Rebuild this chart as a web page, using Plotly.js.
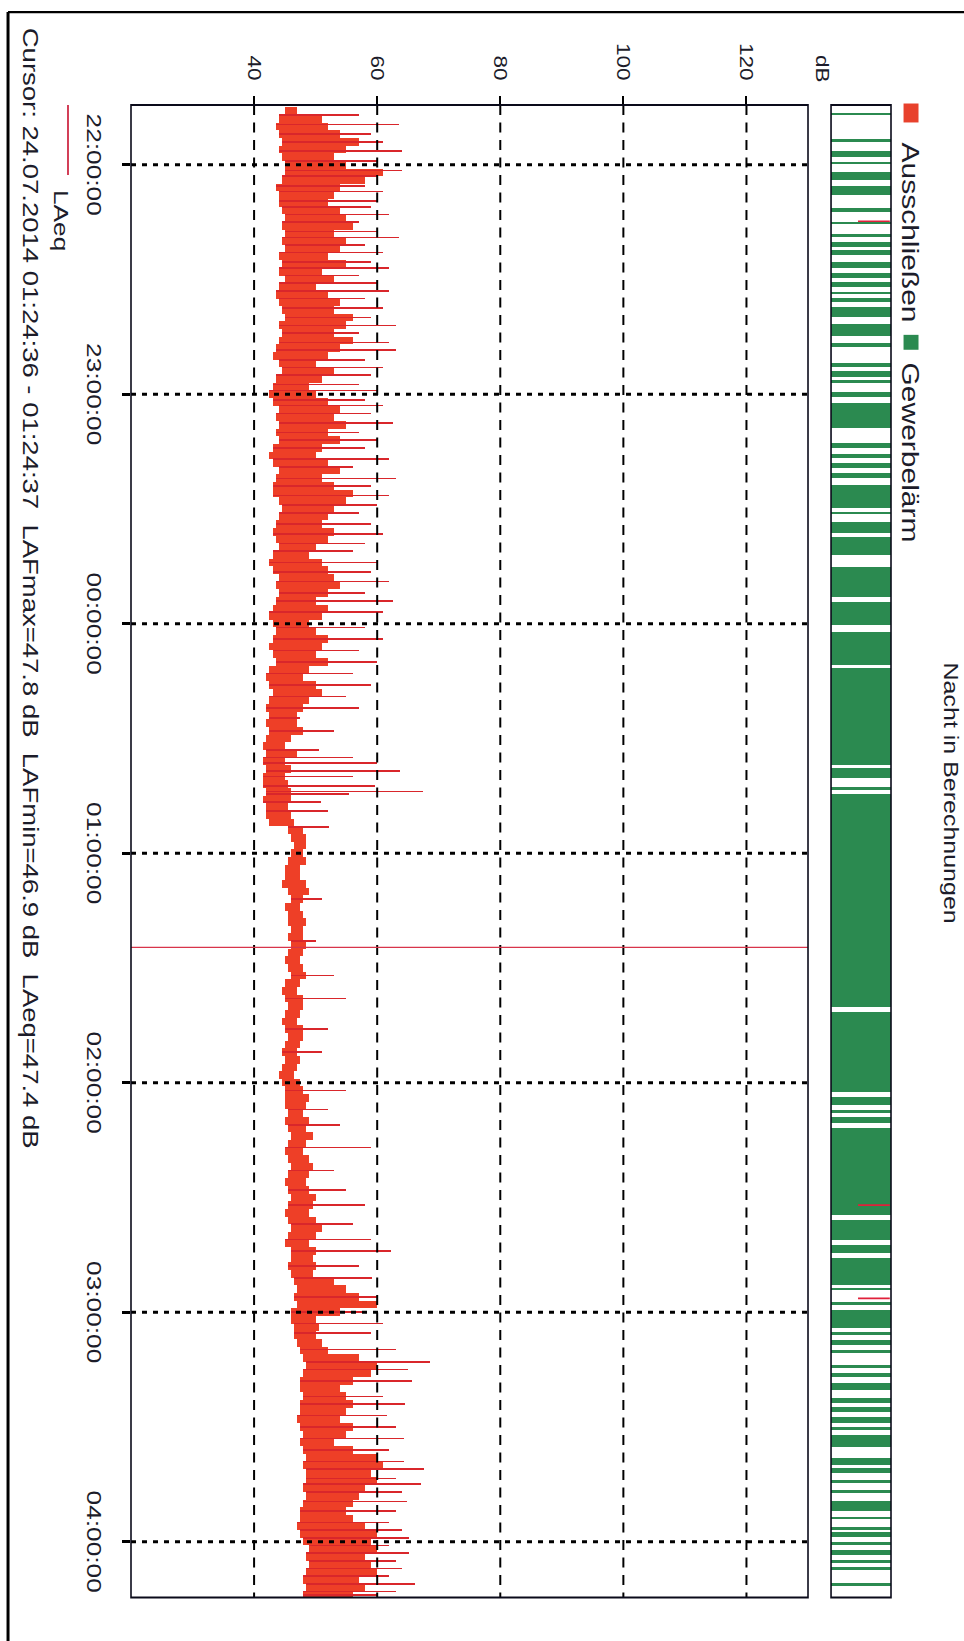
<!DOCTYPE html>
<html><head><meta charset="utf-8">
<script src="https://cdn.plot.ly/plotly-3.0.1.min.js"></script>
<style>
html,body{margin:0;padding:0;overflow:hidden;background:#fff;width:964px;height:1641px;}
#chart{position:absolute;left:0;top:0;width:1313px;height:964px;transform-origin:0 0;transform:translate(964px,0) rotate(90deg) scale(1.25,1);}
</style></head><body><div id="chart"></div>
<script>
// ---- data (times in minutes relative to 23.07.2014 22:00:00) ----
const dbTicks = [40, 60, 80, 100, 120];
const hourTicks = ['2014-07-23 22:00:00','2014-07-23 23:00:00','2014-07-24 00:00:00','2014-07-24 01:00:00','2014-07-24 02:00:00','2014-07-24 03:00:00','2014-07-24 04:00:00'];
const hourLabels = ['22:00:00','23:00:00','00:00:00','01:00:00','02:00:00','03:00:00','04:00:00'];

const binStart = -15;   // first 2-minute bin starts 21:45
const binStep = 2;
const laeqLow = [
 45,44,43.5,44,44.5,44,44.5,45,45,44.5,
 43.5,44,44,44.5,45,44.5,45,44.5,45,44,
 44.5,44,45,44,43.5,44,44.5,45,44,44.5,
 44,43.5,43,44,44.5,43.5,43,42.5,43,44,
 43.5,44,43.5,44,43,42.5,43,44,43.5,43,
 43,44,44.5,44,43.5,43,43.5,44,43,42.5,
 43,44,43.5,44,43.5,43,42.5,43,43.5,43,
 42.5,43,43.5,42.5,42,42.5,43,42.5,42,42.5,
 42,42.5,42,41.5,42,41.5,42,41.5,41.5,42,
 41.5,42,42,42.5,45.5,46,46.5,46,45.5,45,
 45,44.5,45.5,46,45,45.5,45.5,46,45.5,46,
 45.5,45,45.5,46,45,44.5,45,45.5,45,44.5,
 45,45.5,45,44.5,45,44.5,44,44.5,45,45,
 45,45.5,45,45.5,46,45.5,45,45.5,46,45.5,
 45,45.5,46,45.5,45,45.5,46,45.5,45,46,
 46,45.5,46,46.5,47,46.5,47,46,46,46.5,
 46.5,47,47.5,48,48.5,48,47.5,47.5,48,47.5,
 47.5,47,47.5,48,47.5,48,48.5,48,48.5,48.5,
 48,48.5,48,47.5,47.5,47,47.5,48,49,48.5,
 49,48.5,48,48.5,48
];
const laeqHigh = [
 47,51,52,54,57,55,53,55,61,58,
 54,53,52,54,55,56,53,55,54,52,
 55,51,53,50,52,54,53,56,55,53,
 56,54,52,50,53,51,49,50,52,54,
 53,55,52,54,51,50,52,54,51,53,
 56,55,53,52,51,53,52,50,49,51,
 52,53,54,52,50,52,51,49,50,52,
 51,50,52,49,48,50,51,49,48,47,
 47,48,46,45,47,45,46,45,45.5,46,
 46,45.5,46,46.5,48,48.5,48.5,48,48.5,47.5,
 47.5,48.5,49,48,47.5,48,48.5,48,48,48.5,
 48,47.5,48,48.5,47.5,47,48,48,47.5,47,
 48,48,47.5,47,47.5,47,46.5,47.5,48,49,
 48.5,48,49,48.5,49.5,48.5,48,49,49.5,49,
 48.5,49,50,49.5,49,50,51,50,49,50,
 49.5,50,49.5,53,55,57,60,54,50,50.5,
 50,51,52,57,60,59,56,54,55,56,
 55,54,56,55,53,56,60,61,59,60,
 58,57,56,55,56,58,60,59,60,58,
 59,60,57,58,56
];
const spikeMin = [
 -13,-10.5,-8,-6,-3.5,-1,
 1.5,3,5.5,7,9.5,11,13,15,17.5,19,21,23,25.5,27,29,
 31,33,35,37.5,40,42,44,46.5,48.5,51,53,55,57.5,59,
 61.5,63,65,67.5,70,72,74,77,79,82,84,86.5,89,91,94,96.5,99,101,104,106.5,109,112,114,117,
 121,124,127,130,133,136,139,142,144.7,148,153,155,156.5,158.5,160,162.4,163.9,164.6,166.6,169,173.1,
 192,203,212,218,226,232,
 242,247,251,257,263,268,272,277,281,284,288,291,296,
 300,303,305.5,309.8,313,315,318,322,324,327,330,333,336,339,341,343.5,345,347,349.5,352,355,357,359,361,363,365,367,369,371,373,374
];
const spikePeak = [
 57,63.5,59,61,64,60,
 64,60,58,61,60,59,62,57,60,63.5,58,61,59,62,57,
 60,62,58,61,59,63,57,62,63,58,61,59,57,60,
 58,61,59,62.5,57,60,58,62,56,63,59,62,60,57,59,61,58,56,60,59,62,58,62.5,61,
 58,61,57,60,56,59,55,57,47.5,53,50.5,56,60,63.7,56,59.6,67.5,55.4,50.8,52,52.2,
 51,50,53,55,52,51,
 55,52,54,59,53,55,58,56,59,62.2,57,59.2,60,
 58,61,59,63,68.6,65,65.7,61,64.5,61.6,63,64.3,62,64.3,67.6,63,67.2,64,64.9,63,62,64,65.2,62,65.2,63,64,62,66.2,63,60
];
// "Gewerbelärm" periods (start / end, minutes)
const gwStart = [-13.4,-6.6,-3.7,-0.6,2.0,5.7,11.4,15.1,18.0,20.3,22.4,25.5,28.4,30.8,33.4,34.9,37.3,41.7,46.7,51.9,53.9,56.3,59.4,62.4,72.8,75.7,78.0,80.7,83.8,90.9,93.5,97.4,105.3,114.4,122.2,131.6,157.8,162.7,164.5,221.5,243.7,247.1,248.9,251.9,275.8,282.4,285.8,293.6,297.3,299.4,305.1,307.2,309.8,313.8,315.8,318.4,322.4,324.7,327.3,329.9,332.1,338.0,340.7,343.8,346.4,349.5,353.5,356.1,357.6,360.0,362.1,364.7,366.5,370.7];
const gwEnd   = [-12.9,-5.8,-1.9,-0.3,4.1,8.0,12.5,15.6,19.0,21.6,23.7,27.1,29.5,32.1,33.9,36.0,39.9,44.9,47.7,52.9,55.5,57.1,60.7,68.9,74.1,76.7,79.3,82.0,89.8,91.4,96.4,102.1,113.1,120.4,130.8,157.0,160.4,163.5,220.1,242.4,245.8,247.9,250.5,274.6,281.1,284.5,292.8,294.1,298.1,304.1,305.9,308.5,310.6,314.6,316.9,320.3,323.7,326.0,328.9,330.7,335.2,339.9,342.0,344.6,347.2,352.1,354.0,356.9,358.7,360.8,363.4,365.5,367.3,371.7];
// "Ausschließen" marks
const exclMin = [14.8, 272, 296.4];
const cursorMin = 204.6; // 01:24:36
const cursorText = 'Cursor: 24.07.2014 01:24:36 - 01:24:37\u00a0 LAFmax=47.8 dB\u00a0 LAFmin=46.9 dB\u00a0 LAeq=47.4 dB';

// ---- helpers ----
const BASE_MS = Date.UTC(2014, 6, 23, 22, 0, 0);
function ts(m){ return new Date(BASE_MS + Math.round(m*60000)).toISOString().replace('T',' ').replace('Z',''); }
function binIndex(m){ return Math.max(0, Math.min(laeqLow.length-1, Math.floor((m-binStart)/binStep))); }

const binX = laeqLow.map((_, i) => ts(binStart + binStep*i + binStep/2));
const spikeBase = spikeMin.map(m => laeqLow[binIndex(m)]);

const RED = '#ee3f27', RED_D = '#d9262b', GREEN = '#2b8a50';

const traces = [
 {type:'bar', x:binX, base:laeqLow, y:laeqHigh.map((h,i)=>h-laeqLow[i]), width:binStep*60000,
  marker:{color:RED, line:{width:0}}, xaxis:'x', yaxis:'y', name:'LAeq', hoverinfo:'skip'},
 {type:'bar', x:spikeMin.map(ts), base:spikeBase, y:spikePeak.map((p,i)=>p-spikeBase[i]), width:25000,
  marker:{color:RED_D, line:{width:0}}, xaxis:'x', yaxis:'y', name:'LAeq peaks', hoverinfo:'skip'},
 {type:'bar', x:gwStart.map((s,i)=>ts((s+gwEnd[i])/2)), base:gwStart.map(()=>0), y:gwStart.map(()=>1),
  width:gwStart.map((s,i)=>(gwEnd[i]-s)*60000), marker:{color:GREEN, line:{width:0}},
  xaxis:'x2', yaxis:'y2', name:'Gewerbelärm', hoverinfo:'skip'},
 {type:'scatter', mode:'lines', x:[].concat(...exclMin.map(m=>[ts(m),ts(m),null])),
  y:[].concat(...exclMin.map(()=>[0.45,0.98,null])), line:{color:'#e0203a', width:1.3},
  xaxis:'x2', yaxis:'y2', name:'Ausschließen', hoverinfo:'skip'}
];

const shapes = [];
dbTicks.forEach(v => shapes.push({type:'line', xref:'paper', x0:0, x1:1, yref:'y', y0:v, y1:v, layer:'above',
  line:{color:'#000', width:2, dash:'8px,6px'}}));
hourTicks.forEach(t => shapes.push({type:'line', xref:'x', x0:t, x1:t, yref:'y domain', y0:0, y1:1, layer:'above',
  line:{color:'#000', width:2.4, dash:'5px,6px'}}));
shapes.push({type:'line', xref:'x', x0:ts(cursorMin), x1:ts(cursorMin), yref:'y domain', y0:0, y1:1, layer:'above',
  line:{color:'#d8344a', width:1}});
shapes.push({type:'rect', xref:'paper', x0:0, x1:1, yref:'y domain', y0:0, y1:1, layer:'above', line:{color:'#0a0a1a', width:1.6}});
shapes.push({type:'rect', xref:'paper', x0:0, x1:1, yref:'y2 domain', y0:0, y1:1, layer:'above', line:{color:'#0a0a1a', width:1.6}});
// legend symbols
shapes.push({type:'rect', xref:'paper', yref:'paper', x0:-0.001, x1:0.0117, y0:1.0165, y1:1.0362, fillcolor:'#e8412c', line:{width:0}});
shapes.push({type:'rect', xref:'paper', yref:'paper', x0:0.154, x1:0.164, y0:1.0165, y1:1.0362, fillcolor:GREEN, line:{width:0}});
shapes.push({type:'line', xref:'paper', yref:'paper', x0:0, x1:0.0469, y0:-0.0829, y1:-0.0829, line:{color:'#c8102e', width:1.6}});
// outer frame
shapes.push({type:'line', xref:'paper', yref:'paper', x0:-0.0623, x1:-0.0623, y0:-0.1618, y1:1.1, line:{color:'#000', width:1.8}});
shapes.push({type:'line', xref:'paper', yref:'paper', x0:-0.0623, x1:1.03, y0:-0.1618, y1:-0.1618, line:{color:'#000', width:3}});

const TXT = '#1c1c2a';
const annotations = [
 {text:'Nacht in Berechnungen', xref:'paper', yref:'paper', x:0.461, y:1.079, showarrow:false, xanchor:'center', yanchor:'middle', font:{size:20, color:TXT}},
 {text:'dB', xref:'paper', yref:'paper', x:-0.0243, y:0.909, showarrow:false, xanchor:'center', yanchor:'middle', font:{size:18, color:TXT}},
 {text:'Ausschließen', xref:'paper', yref:'paper', x:0.0235, y:1.026, showarrow:false, xanchor:'left', yanchor:'middle', font:{size:24, color:TXT}},
 {text:'Gewerbelärm', xref:'paper', yref:'paper', x:0.171, y:1.026, showarrow:false, xanchor:'left', yanchor:'middle', font:{size:24, color:TXT}},
 {text:'LAeq', xref:'paper', yref:'paper', x:0.0553, y:-0.0908, showarrow:false, xanchor:'left', yanchor:'middle', font:{size:21, color:TXT}},
 {text:cursorText, xref:'paper', yref:'paper', x:-0.0536, y:-0.1316, showarrow:false, xanchor:'left', yanchor:'middle', font:{size:22, color:TXT}}
];

const layout = {
 width:1313, height:964,
 margin:{l:84, r:35, t:73, b:131},
 paper_bgcolor:'#fff', plot_bgcolor:'#fff',
 showlegend:false, barmode:'overlay', bargap:0,
 font:{family:'"Liberation Sans", Arial, sans-serif', color:TXT},
 xaxis:{type:'date', range:[ts(-15.6), ts(374.6)], anchor:'y', domain:[0,1],
   tickmode:'array', tickvals:hourTicks, ticktext:hourLabels,
   ticks:'outside', ticklen:8, tickwidth:2.4, tickcolor:'#000',
   showgrid:false, showline:false, zeroline:false, tickfont:{size:21, color:TXT}, ticklabelstandoff:10},
 yaxis:{domain:[0,0.8908], range:[20,130], anchor:'x', tickmode:'array', tickvals:dbTicks,
   ticks:'outside', ticklen:6, tickwidth:2, tickcolor:'#000',
   showgrid:false, showline:false, zeroline:false, tickfont:{size:18, color:TXT}, ticklabelstandoff:9},
 xaxis2:{type:'date', matches:'x', anchor:'y2', showticklabels:false, ticks:'', showgrid:false, showline:false, zeroline:false},
 yaxis2:{domain:[0.9211,1], range:[0,1], anchor:'x2', showticklabels:false, ticks:'', showgrid:false, showline:false, zeroline:false},
 shapes:shapes, annotations:annotations
};

Plotly.newPlot('chart', traces, layout, {staticPlot:true, displayModeBar:false});
</script></body></html>
